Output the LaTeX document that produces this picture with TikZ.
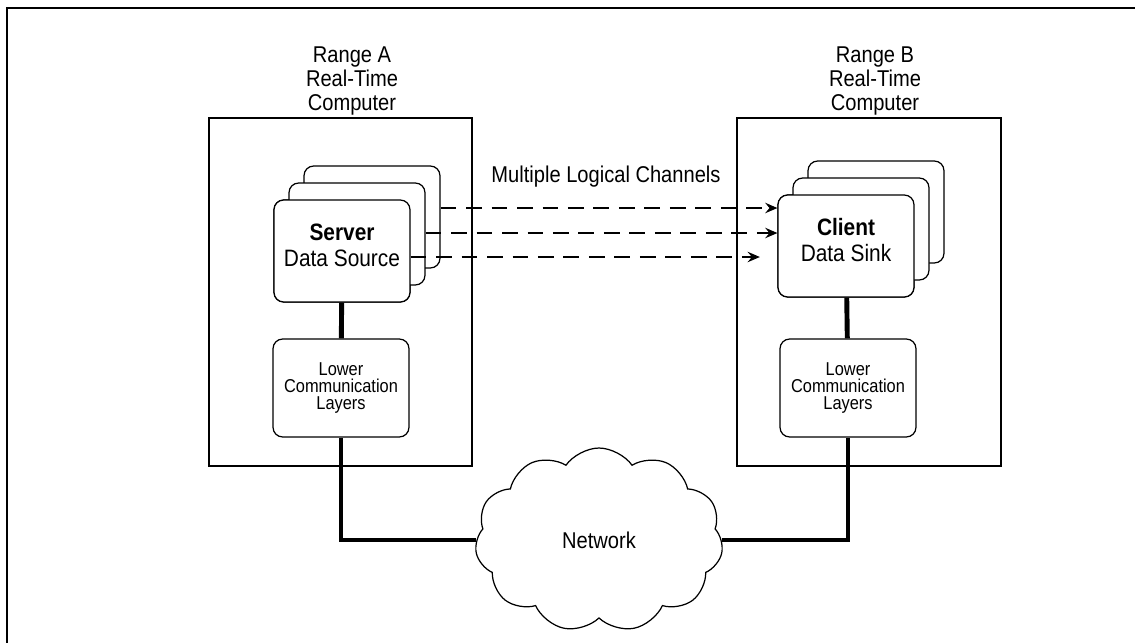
\documentclass[tikz,border=0pt]{standalone}
\usepackage{fontspec}
\setmainfont{Liberation Sans}[FakeStretch=0.88]
\usetikzlibrary{shapes.symbols,arrows.meta}

\tikzset{
  host/.style={draw, line width=0.7pt},
  proc/.style={draw, fill=white, rounded corners=5.5pt, line width=0.7pt,
    inner sep=0pt, minimum width=2.72cm, minimum height=2.04cm, align=center,
    font=\fontsize{13}{14.7}\selectfont},
  layer/.style={proc, minimum height=1.96cm, font=\fontsize{10.6}{9.6}\selectfont},
  proctext/.style={align=center, inner sep=0pt, font=\fontsize{13.5}{14.7}\selectfont},
  link/.style={line width=2.8pt},
  chan/.style={line width=0.6pt, dash pattern=on 9pt off 5.5pt,
    -{Stealth[length=7pt,width=6pt,inset=2.5pt]}},
  title/.style={align=center, inner sep=0pt, font=\fontsize{13}{13.9}\selectfont}
}

\begin{document}
\begin{tikzpicture}[x=0.02cm, y=-0.02cm]
        \useasboundingbox (0,0) rectangle (1135,643);
        \clip (0,0) rectangle (1135,643);
        %% frame
        \draw[line width=1.5pt] (1135,8) -- (7,8) -- (7,643);

        %% the two computers
        \draw[host] (209,118) rectangle (472,466);
        \draw[host] (737,118) rectangle (1001,466);

        \node[title, anchor=north] (rangeA) at (352,46) {Range A\\Real-Time\\Computer};
        \node[title, anchor=north] (rangeB) at (875,46) {Range B\\Real-Time\\Computer};

        %% server stack
        \node[proc] (sfront) at (342,251) {};
        \node[proc] (sback) at ([shift={(30,-34)}]sfront.center) {};
        \node[proc] (smid) at ([shift={(15,-17)}]sfront.center) {};
        \node[proc] at (sfront.center) {};
        \node[proctext] (stext) at ([shift={(0,-6)}]sfront.center) {\textbf{Server}\\Data Source};

        %% client stack
        \node[proc] (cfront) at (846,246) {};
        \node[proc] (cback) at ([shift={(30,-34)}]cfront.center) {};
        \node[proc] (cmid) at ([shift={(15,-17)}]cfront.center) {};
        \node[proc] at (cfront.center) {};
        \node[proctext] (ctext) at ([shift={(0,-6)}]cfront.center) {\textbf{Client}\\Data Sink};

        %% lower layers
        \node[layer] (slow) at (341,388) {Lower\\Communication\\Layers};
        \node[layer] (clow) at (848,388) {Lower\\Communication\\Layers};

        \node[cloud, draw, fill=white, cloud puffs=11, cloud puff arc=110,
              line width=0.7pt, minimum width=4.96cm, minimum height=3.68cm,
              inner sep=0pt, font=\fontsize{13}{15}\selectfont] (net) at (599,540) {Network};

        %% links
        \draw[link] (sfront) -- (slow);
        \draw[link] (cfront) -- (clow);
        \draw[link] (slow.south) |- (net.west);
        \draw[link] (clow.south) |- (net.east);

        %% logical channels
        \draw[chan] (sback.east |- 0,208) -- (cfront.west |- 0,208);
        \draw[chan] (smid.east |- 0,233) -- (cfront.west |- 0,233);
        \draw[chan, shorten >=10pt] (sfront.east |- 0,257) -- (cfront.west |- 0,257);

        \node[anchor=base, inner sep=0pt, font=\fontsize{13}{15}\selectfont] (chlabel)
             at (606,182) {Multiple Logical Channels};

\end{tikzpicture}
\end{document}
